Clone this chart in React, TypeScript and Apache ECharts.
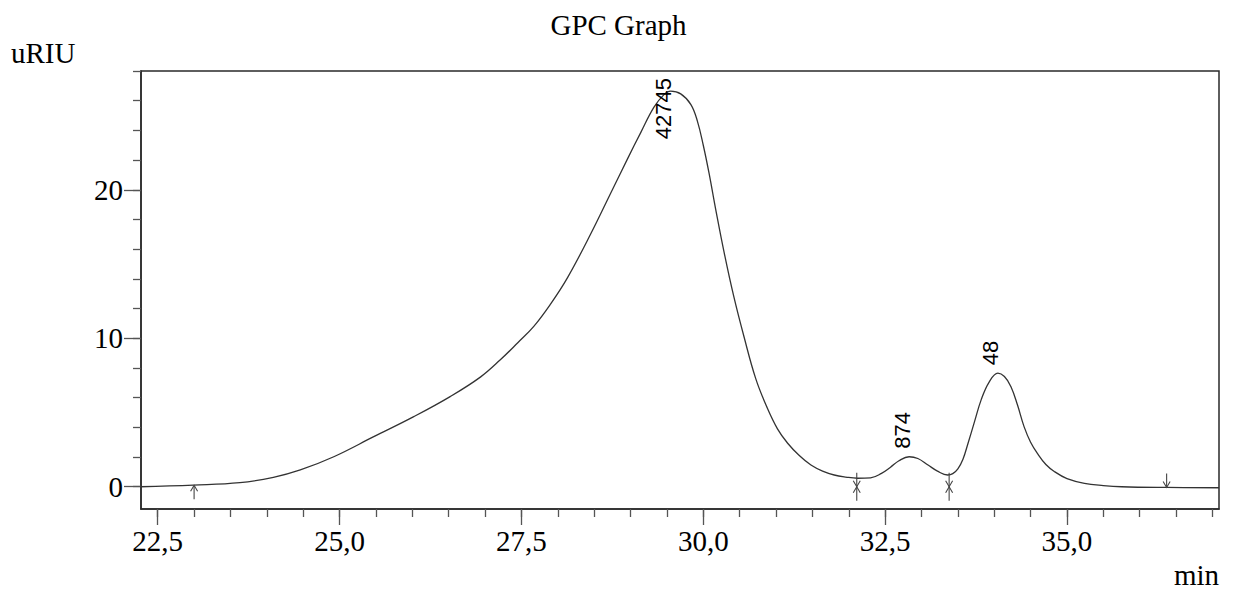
import React, { useEffect, useRef } from "react";
import * as echarts from "echarts";

// ---- data ----
const retentionTime = [
  22.26, 22.99, 23.63, 24.09, 24.46, 24.92, 25.47, 26.02, 26.52, 26.94,
  27.21, 27.45, 27.67, 27.9, 28.13, 28.45, 28.73, 28.96, 29.14, 29.32,
  29.46, 29.55, 29.69, 29.83, 29.92, 30.0, 30.08, 30.17, 30.29, 30.42,
  30.56, 30.72, 30.88, 31.02, 31.16, 31.32, 31.48, 31.64, 31.8, 31.96,
  32.12, 32.3, 32.45, 32.57, 32.69, 32.83, 32.95, 33.09, 33.22, 33.36,
  33.43, 33.5, 33.57, 33.64, 33.73, 33.82, 33.93, 34.05, 34.14, 34.23,
  34.32, 34.41, 34.5, 34.6, 34.71, 34.83, 35.0, 35.24, 35.5, 35.75,
  36.37, 37.09,
];
const signal = [
  0.0, 0.11, 0.27, 0.63, 1.13, 2.02, 3.37, 4.72, 6.07, 7.4,
  8.55, 9.7, 10.8, 12.3, 14.05, 17.0, 19.8, 22.1, 23.85, 25.55,
  26.41, 26.64, 26.46, 25.74, 24.61, 23.0, 21.1, 18.7, 15.7, 12.8,
  10.1, 7.3, 5.3, 3.9, 2.93, 2.1, 1.46, 1.05, 0.79, 0.65,
  0.57, 0.6, 0.9, 1.3, 1.75, 2.02, 1.9, 1.46, 1.05, 0.79,
  0.88, 1.2, 1.85, 2.93, 4.4, 5.85, 7.05, 7.65, 7.42, 6.74,
  5.5, 4.05, 3.0, 2.2, 1.5, 1.01, 0.55, 0.23, 0.08, 0.0,
  -0.05, -0.07,
];

const peakTimes = [29.55, 32.83, 34.05];
const peakValues = [26.64, 2.02, 7.65];
const peakLabels = ["42745", "874", "48"];

const markerTimes = [23.0, 32.11, 33.38, 36.37];
const markerValues = [0.1, 0.0, 0.0, -0.05];
const markerKinds = ["up", "both", "both", "down"];

const xMajorTicks = [22.5, 25.0, 27.5, 30.0, 32.5, 35.0];
const xMinorTicks = [
  22.5, 23.0, 23.5, 24.0, 24.5, 25.0, 25.5, 26.0, 26.5, 27.0, 27.5, 28.0,
  28.5, 29.0, 29.5, 30.0, 30.5, 31.0, 31.5, 32.0, 32.5, 33.0, 33.5, 34.0,
  34.5, 35.0, 35.5, 36.0, 36.5, 37.0,
];
const yMajorTicks = [0, 10, 20];
const yMinorTicks = [0, 2, 4, 6, 8, 10, 12, 14, 16, 18, 20, 22, 24, 26, 28];

const X_MIN = 22.27;
const X_MAX = 37.09;
const Y_MIN = -1.5;
const Y_MAX = 28;

const SERIF = "'Liberation Serif', 'Times New Roman', serif";
const SANS = "'Liberation Sans', Arial, sans-serif";
const PEAK_FONT = `22px ${SANS}`;

function measure(text: string, font: string): number {
  const c = document.createElement("canvas").getContext("2d");
  if (!c) return text.length * 12;
  c.font = font;
  return c.measureText(text).width;
}

export default function App() {
  const ref = useRef<HTMLDivElement>(null);

  useEffect(() => {
    if (!ref.current) return;
    const chart = echarts.init(ref.current, undefined, { renderer: "svg" });
    const fmt = (v: number) => v.toFixed(1).replace(".", ",");
    const axisColor = "#2a2a2a";

    chart.setOption({
      animation: false,
      backgroundColor: "#ffffff",
      title: {
        text: "GPC Graph",
        left: "center",
        top: 5,
        textStyle: {
          fontFamily: SERIF,
          fontSize: 29,
          fontWeight: "normal",
          color: "#000",
        },
      },
      grid: {
        left: 141,
        top: 71,
        width: 1078,
        height: 438,
        show: true,
        borderColor: axisColor,
        borderWidth: 1.5,
        backgroundColor: "transparent",
      },
      xAxis: [
        {
          type: "value",
          min: X_MIN,
          max: X_MAX,
          position: "bottom",
          axisLine: { show: true, onZero: false, lineStyle: { color: axisColor, width: 1.5 } },
          axisTick: { show: true, length: 16, customValues: xMajorTicks, lineStyle: { color: "#555", width: 1.3 } },
          axisLabel: {
            show: true,
            customValues: xMajorTicks,
            formatter: (v: number) => fmt(v),
            fontFamily: SERIF,
            fontSize: 29,
            color: "#000",
            margin: 17,
          },
          splitLine: { show: false },
        },
        {
          type: "value",
          min: X_MIN,
          max: X_MAX,
          position: "bottom",
          axisLine: { show: false, onZero: false },
          axisTick: { show: true, length: 8, customValues: xMinorTicks, lineStyle: { color: "#555", width: 1.3 } },
          axisLabel: { show: false },
          splitLine: { show: false },
        },
      ],
      yAxis: [
        {
          type: "value",
          min: Y_MIN,
          max: Y_MAX,
          position: "left",
          axisLine: { show: true, onZero: false, lineStyle: { color: axisColor, width: 1.5 } },
          axisTick: { show: true, length: 17, customValues: yMajorTicks, lineStyle: { color: "#555", width: 1.3 } },
          axisLabel: {
            show: true,
            customValues: yMajorTicks,
            fontFamily: SERIF,
            fontSize: 29,
            color: "#000",
            margin: 18,
          },
          splitLine: { show: false },
        },
        {
          type: "value",
          min: Y_MIN,
          max: Y_MAX,
          position: "left",
          axisLine: { show: false, onZero: false },
          axisTick: { show: true, length: 8, customValues: yMinorTicks, lineStyle: { color: "#555", width: 1.3 } },
          axisLabel: { show: false },
          splitLine: { show: false },
        },
      ],
      graphic: [
        {
          type: "text",
          x: 11,
          y: 53,
          style: {
            text: "uRIU",
            font: `29px ${SERIF}`,
            fill: "#000",
            align: "left",
            verticalAlign: "middle",
          },
        },
        {
          type: "text",
          x: 1219,
          y: 575,
          style: {
            text: "min",
            font: `29px ${SERIF}`,
            lineHeight: 24,
            fill: "#000",
            align: "right",
            verticalAlign: "middle",
          },
        },
      ],
      series: [
        {
          type: "line",
          name: "RI signal",
          xAxisIndex: 0,
          yAxisIndex: 0,
          data: retentionTime.map((t, i) => [t, signal[i]]),
          showSymbol: false,
          smooth: 0.4,
          lineStyle: { color: "#333", width: 1.3 },
          clip: true,
        },
        {
          type: "custom",
          name: "markers",
          xAxisIndex: 0,
          yAxisIndex: 0,
          data: markerTimes.map((t, i) => [t, markerValues[i]]),
          renderItem: (params: any, api: any) => {
            const p = api.coord([api.value(0), api.value(1)]);
            const kind = markerKinds[params.dataIndex];
            const x = p[0];
            const y = p[1];
            const L = 14;
            const hw = 3.5;
            const hh = 6;
            const style = { stroke: "#444", lineWidth: 1.1, fill: "none" };
            const children: any[] = [];
            if (kind === "down" || kind === "both") {
              children.push({ type: "line", shape: { x1: x, y1: y - L, x2: x, y2: y }, style });
              children.push({
                type: "polyline",
                shape: { points: [[x - hw, y - hh], [x, y], [x + hw, y - hh]] },
                style,
              });
            }
            if (kind === "up" || kind === "both") {
              children.push({ type: "line", shape: { x1: x, y1: y + L, x2: x, y2: y }, style });
              children.push({
                type: "polyline",
                shape: { points: [[x - hw, y + hh], [x, y], [x + hw, y + hh]] },
                style,
              });
            }
            return { type: "group", children };
          },
          z: 5,
        },
        {
          type: "custom",
          name: "peak labels",
          xAxisIndex: 0,
          yAxisIndex: 0,
          data: peakTimes.map((t, i) => [t, peakValues[i]]),
          renderItem: (params: any, api: any) => {
            const p = api.coord([api.value(0), api.value(1)]);
            const text = peakLabels[params.dataIndex];
            const len = measure(text, PEAK_FONT);
            const top0 = params.coordSys.y;
            let bottom = p[1] - 8;
            if (bottom - len < top0 + 7) bottom = top0 + 7 + len;
            return {
              type: "text",
              x: p[0] - 7,
              y: bottom,
              rotation: Math.PI / 2,
              style: {
                text,
                font: PEAK_FONT,
                fill: "#000",
                align: "left",
                verticalAlign: "middle",
              },
            };
          },
          z: 6,
        },
      ],
    });

    return () => chart.dispose();
  }, []);

  return (
    <div
      ref={ref}
      style={{ position: "fixed", left: 0, top: 0, width: 1237, height: 590, background: "#fff" }}
    />
  );
}
